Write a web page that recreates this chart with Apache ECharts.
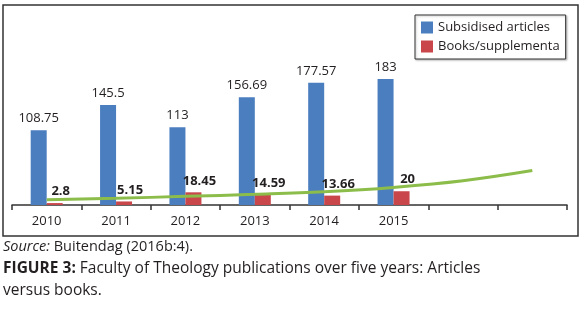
<!DOCTYPE html>
<html>
<head>
<meta charset="utf-8">
<script src="https://cdn.jsdelivr.net/npm/echarts@6/dist/echarts.min.js"></script>
<style>
  html, body { margin: 0; padding: 0; background: #fff; }
  #chart { width: 580px; height: 313px; }
</style>
</head>
<body>
<div id="chart"></div>
<script>
const categories = ['2010', '2011', '2012', '2013', '2014', '2015', '', ''];
const articles = [108.75, 145.5, 113, 156.69, 177.57, 183, null, null];
const books = [2.8, 5.15, 18.45, 14.59, 13.66, 20, null, null];
const trend = [7.7, 9.7, 12.6, 15.5, 19.3, 25.6, 35.2, 50];
const seriesNames = ['Subsidised articles', 'Books/supplementa'];
const sourceText = 'Buitendag (2016b:4).';
const figureTitle = 'FIGURE 3:';
const figureText1 = ' Faculty of Theology publications over five years: Articles';
const figureText2 = 'versus books.';

const FONT = '"Open Sans", sans-serif';
const chart = echarts.init(document.getElementById('chart'), null, { renderer: 'canvas' });

chart.setOption({
  animation: false,
  backgroundColor: '#fff',
  textStyle: { fontFamily: FONT },
  grid: { left: 12, right: 13, top: 33, bottom: 108, containLabel: false },
  legend: {
    data: seriesNames,
    orient: 'vertical',
    left: 415,
    top: 15,
    itemWidth: 12,
    itemHeight: 12,
    itemGap: 6,
    padding: [6, 6, 6, 6],
    borderColor: '#333',
    borderWidth: 1,
    backgroundColor: '#fff',
    shadowColor: 'rgba(0,0,0,0.25)',
    shadowBlur: 2,
    shadowOffsetX: 1,
    shadowOffsetY: 1,
    icon: 'rect',
    textStyle: { fontFamily: FONT, fontSize: 13, color: '#231f20', padding: [0, 0, 0, 0] }
  },
  xAxis: {
    type: 'category',
    data: categories,
    boundaryGap: true,
    axisLine: { lineStyle: { color: '#333', width: 1.5 } },
    axisTick: { show: true, length: 5, lineStyle: { color: '#333', width: 1.5 } },
    axisLabel: { fontFamily: FONT, fontSize: 13, color: '#231f20', margin: 10 }
  },
  yAxis: {
    type: 'value',
    min: 0,
    max: 250,
    show: false,
    splitLine: { show: false }
  },
  series: [
    {
      name: seriesNames[0],
      type: 'bar',
      data: articles,
      barWidth: 16,
      barGap: '0%',
      itemStyle: { color: '#4a7ebf' },
      label: {
        show: true,
        position: 'top',
        distance: 5,
        fontFamily: FONT,
        fontSize: 13,
        color: '#231f20'
      }
    },
    {
      name: seriesNames[1],
      type: 'bar',
      data: books,
      barWidth: 16,
      barGap: '0%',
      itemStyle: { color: '#c9474a' },
      label: {
        show: true,
        position: 'top',
        distance: 5,
        offset: [6, 0],
        fontFamily: FONT,
        fontSize: 13,
        fontWeight: 'bold',
        color: '#231f20'
      }
    },
    {
      name: 'trend',
      type: 'line',
      data: trend,
      smooth: 0.4,
      symbol: 'none',
      z: 5,
      lineStyle: { color: '#8cbd4b', width: 3 }
    }
  ],
  graphic: [
    {
      type: 'rect',
      shape: { x: 3, y: 5, width: 575, height: 231 },
      style: { fill: 'none', stroke: '#333', lineWidth: 1.5 },
      z: 0,
      silent: true
    },
    {
      type: 'text',
      left: 3,
      top: 239,
      style: {
        text: '{i|Source:} ' + sourceText,
        rich: {
          i: { fontStyle: 'italic', fontFamily: FONT, fontSize: 14.5, fill: '#231f20' }
        },
        font: '14.5px ' + FONT,
        fill: '#231f20'
      }
    },
    {
      type: 'text',
      left: 3,
      top: 258,
      style: {
        text: '{b|' + figureTitle + '}' + figureText1 + '\n' + figureText2,
        rich: {
          b: { fontWeight: 'bold', fontFamily: FONT, fontSize: 15.5, fill: '#231f20' }
        },
        font: '15.5px ' + FONT,
        lineHeight: 22,
        fill: '#231f20'
      }
    }
  ]
});
</script>
</body>
</html>
